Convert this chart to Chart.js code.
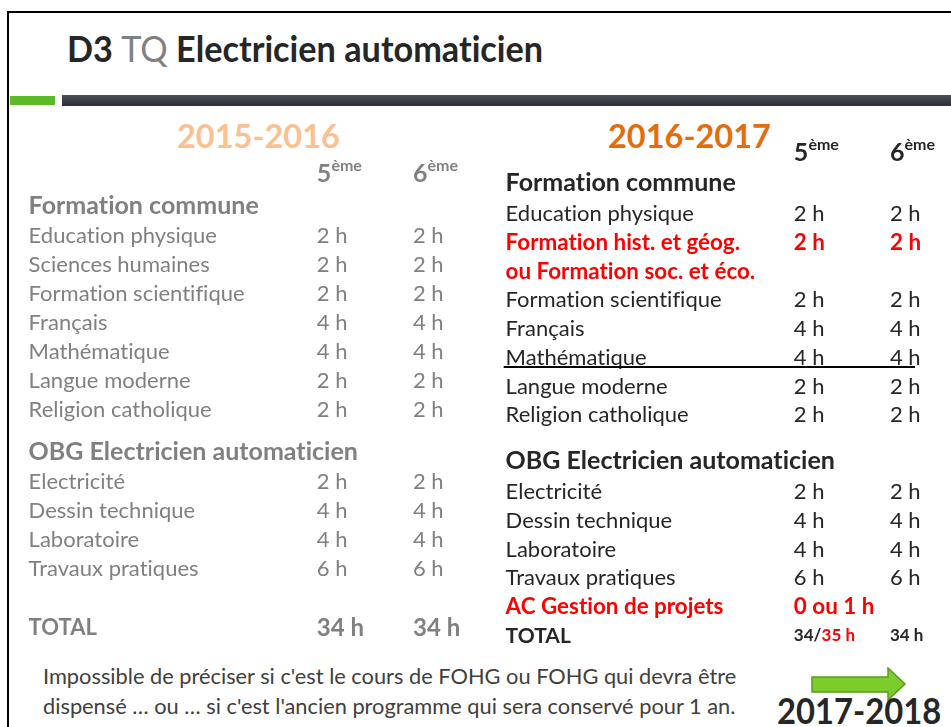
<!DOCTYPE html>
<html lang="fr">
<head>
<meta charset="utf-8">
<title>D3 TQ Electricien automaticien</title>
<script src="https://cdn.jsdelivr.net/npm/chart.js@4.4.1/dist/chart.umd.min.js"></script>
<style>
  html, body { margin: 0; padding: 0; background: #fff; }
  #slide { position: relative; width: 951px; height: 727px; overflow: hidden; background: #fff;
           font-family: Lato, "Open Sans", sans-serif; font-variant-ligatures: none; }
  .frame { position: absolute; left: 7px; top: 11px; width: 980px; height: 760px;
           border-left: 2px solid #000; border-top: 2px solid #000; }
  h1 { position: absolute; left: 67px; top: 25px; margin: 0; font-size: 37px; font-weight: 700;
       line-height: 46px; color: #262626; white-space: nowrap; transform: scaleX(0.925); transform-origin: left top; }
  h1 span { color: #808080; font-weight: 400; }
  .green { position: absolute; left: 10px; top: 96px; width: 45px; height: 9px; background: #5cba28; }
  .dark { position: absolute; left: 62px; top: 95px; width: 900px; height: 11px;
          background: linear-gradient(#4b4e56, #2c2f37); }
  .year { position: absolute; font-size: 32.5px; font-weight: 700; line-height: 40px; white-space: nowrap; }
  .tbl { position: absolute; }
  .note { position: absolute; left: 43px; top: 661px; font-size: 21.8px; line-height: 30px; color: #404040;
          white-space: nowrap; }
  .next { position: absolute; left: 777px; top: 690px; font-size: 36px; font-weight: 700; line-height: 40px;
          color: #262626; white-space: nowrap; transform: scaleX(0.91); transform-origin: left top; }
  svg { position: absolute; left: 811px; top: 667px; }
</style>
</head>
<body>
<div id="slide">
  <div class="frame"></div>
  <h1>D3 <span>TQ</span> Electricien automaticien</h1>
  <div class="green"></div>
  <div class="dark"></div>
  <div class="year" id="y0" style="left:177px; top:116px; color:#fac090;"></div>
  <div class="year" id="y1" style="left:608px; top:116px; color:#e46c0a;"></div>
  <div class="tbl" style="left:19px; top:150px;"><canvas id="t2015" width="442" height="500"></canvas></div>
  <div class="tbl" style="left:496px; top:130px;"><canvas id="t2016" width="442" height="520"></canvas></div>
  <div class="note">Impossible de préciser si c'est le cours de FOHG ou FOHG qui devra être<br>dispensé … ou … si c'est l'ancien programme qui sera conservé pour 1 an.</div>
  <svg width="96" height="36" viewBox="0 0 96 36">
    <polygon points="1,10 77,10 77,1 94,17 77,33 77,25 1,25" fill="#7ccc2c" stroke="#5a9a1c" stroke-width="1.5"/>
  </svg>
  <div class="next" id="nextYear"></div>
</div>
<script>
// années scolaires
const years = ['2015-2016', '2016-2017', '2017-2018'];
const grades = ['5', '6'];
const gradeSuffix = 'ème';
const sections = ['Formation commune', 'OBG Electricien automaticien'];

// 2015-2016
const commun2015 = ['Education physique', 'Sciences humaines', 'Formation scientifique', 'Français',
                    'Mathématique', 'Langue moderne', 'Religion catholique'];
const commun2015_5 = ['2 h', '2 h', '2 h', '4 h', '4 h', '2 h', '2 h'];
const commun2015_6 = ['2 h', '2 h', '2 h', '4 h', '4 h', '2 h', '2 h'];
const obg2015 = ['Electricité', 'Dessin technique', 'Laboratoire', 'Travaux pratiques'];
const obg2015_5 = ['2 h', '4 h', '4 h', '6 h'];
const obg2015_6 = ['2 h', '4 h', '4 h', '6 h'];
const total2015 = ['34 h', '34 h'];

// 2016-2017
const commun2016 = ['Education physique', 'Formation hist. et géog.\nou Formation soc. et éco.',
                    'Formation scientifique', 'Français', 'Mathématique', 'Langue moderne', 'Religion catholique'];
const commun2016_5 = ['2 h', '2 h', '2 h', '4 h', '4 h', '2 h', '2 h'];
const commun2016_6 = ['2 h', '2 h', '2 h', '4 h', '4 h', '2 h', '2 h'];
const obg2016 = ['Electricité', 'Dessin technique', 'Laboratoire', 'Travaux pratiques', 'AC Gestion de projets'];
const obg2016_5 = ['2 h', '4 h', '4 h', '6 h', '0 ou 1 h'];
const obg2016_6 = ['2 h', '4 h', '4 h', '6 h', ''];
const total2016 = ['34/35 h', '34 h'];
// cours nouveaux (en rouge)
const nouveaux2016 = ['Formation hist. et géog.\nou Formation soc. et éco.', 'AC Gestion de projets'];

document.getElementById('y0').textContent = years[0];
document.getElementById('y1').textContent = years[1];
document.getElementById('nextYear').textContent = years[2];

const FONT = 'Lato, "Open Sans", sans-serif';
const COL = [0, 3, 4]; // matière, 5ème, 6ème

// construit les cellules d'un tableau (y en lignes)
function buildCells(t) {
  const cells = [];
  grades.forEach((g, k) => cells.push({ x: COL[k + 1], y: t.headerY, text: g, kind: 'grade' }));
  let y = 0;
  const addSection = (title, labels, h5, h6) => {
    cells.push({ x: COL[0], y: y, text: title, kind: 'section' });
    y += t.headStep - 1;
    labels.forEach((lab, i) => {
      const isNew = (t.nouveaux || []).includes(lab);
      lab.split('\n').forEach((line, j) => {
        y += 1;
        cells.push({ x: COL[0], y: y, text: line, kind: isNew ? 'new' : 'text' });
        if (j === 0) {
          if (h5[i]) cells.push({ x: COL[1], y: y, text: h5[i], kind: isNew ? 'new' : 'text' });
          if (h6[i]) cells.push({ x: COL[2], y: y, text: h6[i], kind: isNew ? 'new' : 'text' });
        }
        if (t.ruleAfter === line) t.ruleY = y + t.ruleOffset;
      });
    });
  };
  addSection(sections[0], t.commun, t.commun5, t.commun6);
  y += t.sectionGap;
  addSection(sections[1], t.obg, t.obg5, t.obg6);
  y += t.totalGap;
  cells.push({ x: COL[0], y: y, text: 'TOTAL', kind: 'totalLabel' });
  t.total.forEach((v, k) => cells.push({ x: COL[k + 1], y: y, text: v, kind: 'total' }));
  return cells;
}

function put(ctx, text, x, y) {
  ctx.fillText(text, x, y);
  return ctx.measureText(text).width;
}

const cellText = {
  id: 'cellText',
  afterDatasetsDraw(chart, args, o) {
    const ctx = chart.ctx;
    const ds = chart.data.datasets[0];
    const meta = chart.getDatasetMeta(0);
    ctx.save();
    ctx.textAlign = 'left';
    ctx.textBaseline = 'middle';
    if ('letterSpacing' in ctx) ctx.letterSpacing = '0.01px'; // pas de ligatures
    meta.data.forEach((pt, i) => {
      const c = ds.data[i];
      const x = pt.x, y = pt.y;
      ctx.fillStyle = o.color;
      if (c.kind === 'grade') {
        ctx.font = `700 25px ${FONT}`;
        const w = put(ctx, c.text, x, y);
        ctx.font = `700 16px ${FONT}`;
        put(ctx, gradeSuffix, x + w, y - 8);
      } else if (c.kind === 'section') {
        ctx.font = `700 25px ${FONT}`;
        put(ctx, c.text, x, y);
      } else if (c.kind === 'new') {
        ctx.fillStyle = '#ff0000';
        ctx.font = `700 22.4px ${FONT}`;
        put(ctx, c.text, x, y);
      } else if (c.kind === 'totalLabel') {
        ctx.font = `700 ${o.totalLabelSize}px ${FONT}`;
        put(ctx, c.text, x, y);
      } else if (c.kind === 'total') {
        ctx.font = `700 ${o.totalSize}px ${FONT}`;
        const parts = c.text.split('/');
        if (parts.length > 1) {
          const w = put(ctx, parts[0] + '/', x, y);
          ctx.fillStyle = '#ff0000';
          put(ctx, parts[1], x + w, y);
        } else {
          put(ctx, c.text, x, y);
        }
      } else {
        ctx.font = `400 22px ${FONT}`;
        put(ctx, c.text, x, y);
      }
    });
    if (o.ruleY != null) {
      const xs = chart.scales.x, ys = chart.scales.y;
      ctx.strokeStyle = '#000';
      ctx.lineWidth = 2;
      ctx.beginPath();
      ctx.moveTo(xs.getPixelForValue(-0.02), ys.getPixelForValue(o.ruleY));
      ctx.lineTo(xs.getPixelForValue(4.26), ys.getPixelForValue(o.ruleY));
      ctx.stroke();
    }
    ctx.restore();
  }
};

function makeTable(id, t, style) {
  const cells = buildCells(t);
  const canvas = document.getElementById(id);
  // échelle verticale : une unité = une ligne du tableau
  const yMin = -t.anchor / t.pitch;
  const yMax = yMin + canvas.height / t.pitch;
  return new Chart(canvas, {
    type: 'scatter',
    data: { datasets: [{ data: cells, pointRadius: 0, pointHoverRadius: 0 }] },
    options: {
      responsive: false,
      animation: false,
      events: [],
      layout: { padding: 0 },
      scales: {
        x: { type: 'linear', min: -0.1, max: 4.5, display: false },
        y: { type: 'linear', min: yMin, max: yMax, reverse: true, display: false }
      },
      plugins: {
        legend: { display: false },
        tooltip: { enabled: false },
        cellText: Object.assign({ ruleY: t.ruleY }, style)
      }
    },
    plugins: [cellText]
  });
}

makeTable('t2015', {
  commun: commun2015, commun5: commun2015_5, commun6: commun2015_6,
  obg: obg2015, obg5: obg2015_5, obg6: obg2015_6, total: total2015,
  headerY: -1.12, headStep: 1.04, sectionGap: 1.47, totalGap: 2.05, anchor: 56, pitch: 28.9
}, { color: '#808080', totalSize: 24, totalLabelSize: 22 });

makeTable('t2016', {
  commun: commun2016, commun5: commun2016_5, commun6: commun2016_6,
  obg: obg2016, obg5: obg2016_5, obg6: obg2016_6, total: total2016,
  nouveaux: nouveaux2016, ruleAfter: 'Mathématique', ruleOffset: 0.32,
  headerY: -1.06, headStep: 1.08, sectionGap: 1.59, totalGap: 1.0, anchor: 53, pitch: 28.75
}, { color: '#262626', totalSize: 17, totalLabelSize: 21 });
</script>
</body>
</html>
